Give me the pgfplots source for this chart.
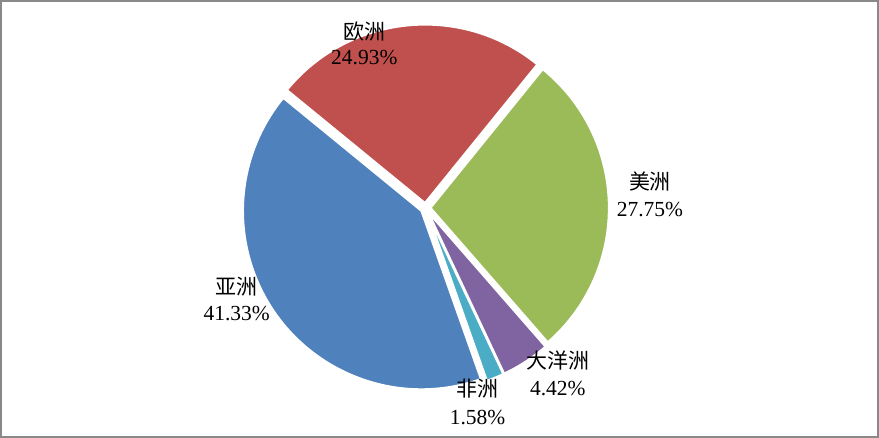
\documentclass[border=0pt]{standalone}
\usepackage{pgfplots}
\pgfplotsset{compat=1.18}
\usepackage{pgfplotstable}
\usepackage{fontspec}
\setmainfont{Liberation Serif}
\newfontfamily\cjk{Noto Sans CJK SC}
\definecolor{cAm}{HTML}{9BBB59}
\definecolor{cOc}{HTML}{8064A2}
\definecolor{cAf}{HTML}{4BACC6}
\definecolor{cAs}{HTML}{4F81BD}
\definecolor{cEu}{HTML}{C0504D}
\definecolor{frame}{HTML}{898989}
\pgfplotstableread{
value
27.75
4.42
1.58
41.33
24.93
}\pietable
\pgfplotstablegetelem{0}{value}\of\pietable \let\vA\pgfplotsretval
\pgfplotstablegetelem{1}{value}\of\pietable \let\vB\pgfplotsretval
\pgfplotstablegetelem{2}{value}\of\pietable \let\vC\pgfplotsretval
\pgfplotstablegetelem{3}{value}\of\pietable \let\vD\pgfplotsretval
\pgfplotstablegetelem{4}{value}\of\pietable \let\vE\pgfplotsretval
\pgfmathsetmacro\aA{51}
\pgfmathsetmacro\aB{\aA-3.6*\vA}
\pgfmathsetmacro\aC{\aB-3.6*\vB}
\pgfmathsetmacro\aD{\aC-3.6*\vC}
\pgfmathsetmacro\aE{\aD-3.6*\vD}
\pgfmathsetmacro\aF{\aE-3.6*\vE}
\def\ex{5}
\pgfmathsetmacro\xA{425+\ex*cos((\aA+\aB)/2)}\pgfmathsetmacro\yA{231+\ex*sin((\aA+\aB)/2)}
\pgfmathsetmacro\xB{425+\ex*cos((\aB+\aC)/2)}\pgfmathsetmacro\yB{231+\ex*sin((\aB+\aC)/2)}
\pgfmathsetmacro\xC{425+\ex*cos((\aC+\aD)/2)}\pgfmathsetmacro\yC{231+\ex*sin((\aC+\aD)/2)}
\pgfmathsetmacro\xD{425+\ex*cos((\aD+\aE)/2)}\pgfmathsetmacro\yD{231+\ex*sin((\aD+\aE)/2)}
\pgfmathsetmacro\xE{425+\ex*cos((\aE+\aF)/2)}\pgfmathsetmacro\yE{231+\ex*sin((\aE+\aF)/2)}
\newcommand\slice[5]{%
  \fill[#3, draw=white, line width=2bp, line join=miter]
    (axis cs:#4,#5) -- ++(#1:178bp)
    arc[start angle=#1, end angle=#2, radius=178bp] -- cycle;
}
\newcommand\lab[5]{%
  \node[font=\cjk\fontsize{21}{21}\selectfont, inner sep=0pt] at (axis cs:#1,#2) {#3};
  \node[font=\fontsize{21.5}{21.5}\selectfont, inner sep=0pt] at (axis cs:#1,#4) {#5};
}
\begin{document}
\begin{tikzpicture}
\begin{axis}[
  x=1bp, y=1bp, xmin=0, xmax=879, ymin=0, ymax=439,
  hide axis, clip=false, scale only axis,
]
\slice{\aA}{\aB}{cAm}{\xA}{\yA}
\slice{\aB}{\aC}{cOc}{\xB}{\yB}
\slice{\aC}{\aD}{cAf}{\xC}{\yC}
\slice{\aD}{\aE}{cAs}{\xD}{\yD}
\slice{\aE}{\aF}{cEu}{\xE}{\yE}
\lab{364}{407.3}{欧洲}{381}{24.93\%}
\lab{649}{257.3}{美洲}{229}{27.75\%}
\lab{236.7}{152.3}{亚洲}{126}{41.33\%}
\lab{557}{79}{大洋洲}{51}{4.42\%}
\lab{477}{51}{非洲}{22.3}{1.58\%}
\draw[frame, line width=2bp] (axis cs:1.5,2.5) rectangle (axis cs:876.5,437.5);
\end{axis}
\end{tikzpicture}
\end{document}
